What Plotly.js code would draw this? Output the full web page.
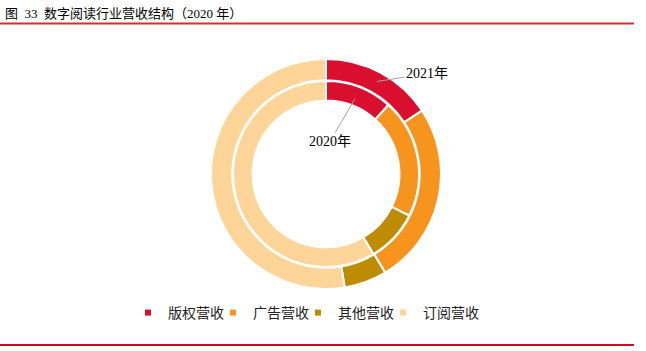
<!DOCTYPE html>
<html>
<head>
<meta charset="utf-8">
<script src="https://cdn.plot.ly/plotly-3.0.1.min.js"></script>
<style>html,body{margin:0;padding:0;background:#fff;}#chart{width:646px;height:351px;}</style>
</head>
<body>
<div id="chart"></div>
<script>
const categories = ['版权营收', '广告营收', '其他营收', '订阅营收'];
const values2021 = [15.7, 25.7, 6.0, 52.6];
const values2020 = [11.7, 20.7, 9.1, 58.5];
const colors = ['#DA0E2E', '#F7941D', '#BD8C00', '#FDD598'];
const ringLabels = ['2021年', '2020年'];
const titleText = '图\u00a0\u00a033\u00a0\u00a0数字阅读行业营收结构（2020 年）';

const W = 646, H = 351;
const px = x => x / W;
const py = y => (H - y) / H;

function pie(values, cx, cy, R, hole) {
  return {
    type: 'pie', labels: categories, values: values, hole: hole,
    sort: false, direction: 'clockwise', rotation: 0,
    textinfo: 'none', hoverinfo: 'label+percent',
    marker: {colors: colors, line: {color: '#ffffff', width: 2}},
    domain: {x: [px(cx - R), px(cx + R)], y: [py(cy + R), py(cy - R)]},
    showlegend: false
  };
}

const traces = [
  pie(values2021, 326, 174, 115, 0.815),
  pie(values2020, 326, 174, 93, 0.79)
];
categories.forEach((c, i) => {
  traces.push({type: 'scatter', x: [null], y: [null], mode: 'markers', name: c,
    marker: {symbol: 'square', size: 6, color: colors[i]}, hoverinfo: 'skip'});
});
// spacer entry so the last legend label is not clipped
traces.push({type: 'scatter', x: [null], y: [null], mode: 'markers', name: ' ',
  marker: {symbol: 'square', size: 6, color: 'rgba(0,0,0,0)'}, hoverinfo: 'skip'});

const serif = 'Liberation Serif, Times New Roman, Noto Sans CJK SC, serif';
const layout = {
  width: W, height: H,
  margin: {l: 0, r: 0, t: 0, b: 0},
  paper_bgcolor: '#ffffff', plot_bgcolor: '#ffffff',
  xaxis: {visible: false}, yaxis: {visible: false},
  showlegend: true,
  legend: {orientation: 'h', x: px(128), xanchor: 'left', y: py(313), yanchor: 'middle',
    bgcolor: 'rgba(0,0,0,0)',
    font: {size: 14, family: 'Noto Sans CJK SC, sans-serif', color: '#222'},
    entrywidth: 40, entrywidthmode: 'pixels', itemwidth: 30, traceorder: 'normal'},
  shapes: [
    {type: 'line', xref: 'paper', yref: 'paper', x0: 0, x1: px(634), y0: py(23.5), y1: py(23.5),
     line: {color: '#D0312D', width: 2}},
    {type: 'line', xref: 'paper', yref: 'paper', x0: 0, x1: px(634), y0: py(345), y1: py(345),
     line: {color: '#C8101E', width: 2}}
  ],
  annotations: [
    {xref: 'paper', yref: 'paper', x: px(3), y: py(13), xanchor: 'left', yanchor: 'middle',
     text: titleText, showarrow: false, font: {size: 13, family: serif, color: '#000'}},
    {xref: 'paper', yref: 'paper', x: px(377), y: py(81.5), text: ringLabels[0],
     showarrow: true, arrowhead: 0, arrowwidth: 1, arrowcolor: '#A6A6A6', ax: 50, ay: -8,
     font: {size: 14, family: serif, color: '#000'}},
    {xref: 'paper', yref: 'paper', x: px(355), y: py(98.5), text: ringLabels[1],
     showarrow: true, arrowhead: 0, arrowwidth: 1, arrowcolor: '#A6A6A6', ax: -25, ay: 43,
     font: {size: 14, family: serif, color: '#000'}}
  ]
};

Plotly.newPlot('chart', traces, layout, {displayModeBar: false, staticPlot: true});
</script>
</body>
</html>
